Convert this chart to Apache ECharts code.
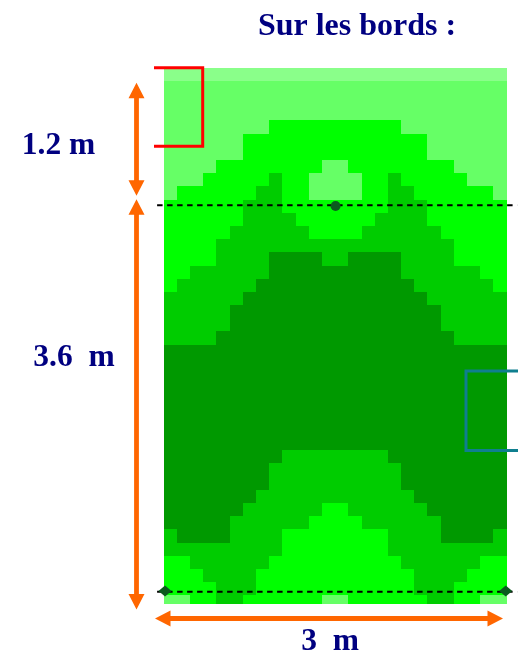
<!DOCTYPE html>
<html>
<head>
<meta charset="utf-8">
<style>html,body{margin:0;padding:0;background:#fff}#c{width:518px;height:660px}</style>
<script src="https://cdn.jsdelivr.net/npm/echarts@6/dist/echarts.min.js"></script>
</head>
<body>
<div id="c"></div>
<script>
// one string per row, one digit per column: the level of each cell
var levelRows = [
'00000000000000000000000000',
'11111111111111111111111111',
'11111111111111111111111111',
'11111111111111111111111111',
'11111111222222222211111111',
'11111122222222222222111111',
'11111122222222222222111111',
'11112222222211222222221111',
'11122222322111122322222111',
'12222223322111122332222221',
'22222233322222222333222222',
'22222233332222223333222222',
'22222333333222233333322222',
'22223333333333333333332222',
'22223333444433444433332222',
'22333333444444444433333322',
'23333334444444444443333332',
'33333344444444444444333333',
'33333444444444444444433333',
'33333444444444444444433333',
'33334444444444444444443333',
'44444444444444444444444444',
'44444444444444444444444444',
'44444444444444444444444444',
'44444444444444444444444444',
'44444444444444444444444444',
'44444444444444444444444444',
'44444444444444444444444444',
'44444444444444444444444444',
'44444444433333333444444444',
'44444444333333333344444444',
'44444444333333333344444444',
'44444443333333333334444444',
'44444433333322333333444444',
'44444333333222233333344444',
'34444333322222222333344443',
'33333333322222222333333333',
'22333333222222222233333322',
'22233332222222222223333222',
'22223332222222222223332222',
'11223322222211222222332211'
];
var levelColors = ['#8AFF8A', '#66FF66', '#00FF00', '#00CC00', '#009900'];
var rowSpan = 40.66;
var sensorPoints = [[13.03, 10.49], [0.1, 39.67], [25.93, 39.67]];
var dashedUpper = [[-0.5, 10.43], [26.8, 10.43]];
var dashedLower = [[-0.5, 39.73], [26.8, 39.73]];
var titleText = 'Sur les bords :';
var dimensionLabels = [
  {text: '1.2 m', x: 58.5, y: 146},
  {text: '3.6  m', x: 74, y: 358},
  {text: '3  m', x: 330, y: 642}
];
var arrowSpans = [
  [136.5, 82.7, 136.5, 195.7],
  [136.5, 199.3, 136.5, 609.5],
  [155, 618.5, 503, 618.5]
];
var redBracket = [[154, 67.7], [202.7, 67.7], [202.7, 146.3], [154, 146.3]];
var tealBracket = [[518, 371], [466, 371], [466, 450.5], [518, 450.5]];

var cells = [];
levelRows.forEach(function (row, r) {
  row.split('').forEach(function (lv, c) { cells.push([c, r, +lv]); });
});

function arrowPolygon(a) {
  var dx = a[2] - a[0], dy = a[3] - a[1];
  var len = Math.sqrt(dx * dx + dy * dy), ux = dx / len, uy = dy / len;
  var nx = -uy, ny = ux, hl = 15.5, hw = 8, sw = 2.4;
  function p(t, s) { return [a[0] + ux * t + nx * s, a[1] + uy * t + ny * s]; }
  return [p(0, 0), p(hl, hw), p(hl, sw), p(len - hl, sw), p(len - hl, hw), p(len, 0),
          p(len - hl, -hw), p(len - hl, -sw), p(hl, -sw), p(hl, -hw)];
}

var graphics = [];
arrowSpans.forEach(function (a) {
  graphics.push({type: 'polygon', z: 20, shape: {points: arrowPolygon(a)}, style: {fill: '#FF6600'}});
});
graphics.push({type: 'polyline', z: 20, shape: {points: redBracket}, style: {stroke: '#FF0000', lineWidth: 3, fill: 'none'}});
graphics.push({type: 'polyline', z: 20, shape: {points: tealBracket}, style: {stroke: '#0F7F8F', lineWidth: 3, fill: 'none'}});
dimensionLabels.forEach(function (d) {
  graphics.push({type: 'text', z: 20, x: d.x, y: d.y, style: {
    text: d.text, fill: '#000080', align: 'center', verticalAlign: 'middle',
    font: 'bold 31.5px "Liberation Serif", serif'
  }});
});
graphics.push({type: 'text', z: 20, x: 357, y: 27, style: {
  text: titleText, fill: '#000080', align: 'center', verticalAlign: 'middle',
  font: 'bold 32px "Liberation Serif", serif'
}});

var dashStyle = {color: '#000', width: 1.8, type: [5.5, 4.5]};
var chart = echarts.init(document.getElementById('c'), null, {renderer: 'canvas'});
chart.setOption({
  animation: false,
  backgroundColor: '#fff',
  grid: {left: 150.51, top: 67.7, width: 367.49, height: 536.3},
  xAxis: {type: 'value', min: -1, max: 26.8614, show: false},
  yAxis: {type: 'value', min: 0, max: rowSpan, inverse: true, show: false},
  graphic: graphics,
  series: [
    {
      type: 'custom',
      data: cells,
      clip: true,
      progressive: 0,
      silent: true,
      encode: {x: 0, y: 1},
      renderItem: function (params, api) {
        var a = api.coord([api.value(0), api.value(1)]);
        var b = api.coord([api.value(0) + 1, api.value(1) + 1]);
        var x0 = Math.round(a[0]), y0 = Math.round(a[1]);
        return {
          type: 'rect',
          shape: {x: x0, y: y0, width: Math.round(b[0]) - x0, height: Math.round(b[1]) - y0},
          style: {fill: levelColors[api.value(2)]}
        };
      }
    },
    {type: 'line', data: dashedUpper, symbol: 'none', clip: false, silent: true, lineStyle: dashStyle, z: 5},
    {type: 'line', data: dashedLower, symbol: 'none', clip: false, silent: true, lineStyle: dashStyle, z: 5},
    {type: 'scatter', data: sensorPoints.slice(0, 1), symbol: 'circle', symbolSize: 10, clip: false, silent: true,
     itemStyle: {color: '#0B5A1E', opacity: 1}, z: 6},
    {type: 'scatter', data: sensorPoints.slice(1), symbol: 'diamond', symbolSize: [13, 11], clip: false, silent: true,
     itemStyle: {color: '#0B5A1E', opacity: 1}, z: 6}
  ]
});
</script>
</body>
</html>
